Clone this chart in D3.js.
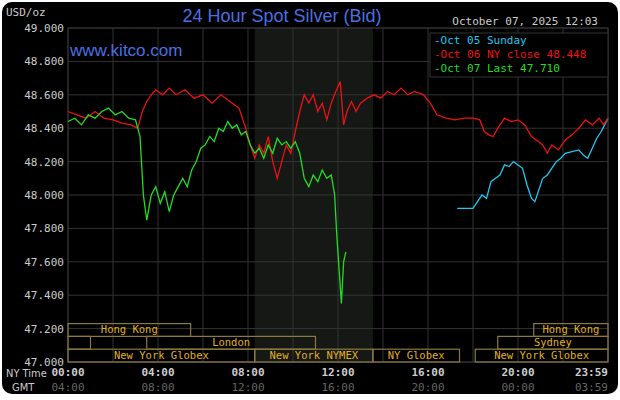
<!DOCTYPE html><html><head><meta charset="utf-8"><script src="https://cdn.jsdelivr.net/npm/d3@7"></script>
<style>body{margin:0;background:#fff}</style></head><body><svg id="c" width="620" height="400"></svg>
<script>
const yTicks=[47.0,47.2,47.4,47.6,47.8,48.0,48.2,48.4,48.6,48.8,49.0];
const xTickLabels=["00:00","04:00","08:00","12:00","16:00","20:00","23:59"];
const gmtLabels=["04:00","08:00","12:00","16:00","20:00","00:00","03:59"];
const xTickHours=[0,4,8,12,16,20,24];
const oct05=[[17.3,47.92],[18.0,47.92],[18.2,47.96],[18.4,48.0],[18.6,47.98],[18.8,48.08],[19.0,48.1],[19.2,48.12],[19.4,48.18],[19.6,48.17],[19.8,48.2],[20.0,48.18],[20.2,48.16],[20.4,48.06],[20.6,47.98],[20.75,47.96],[20.9,48.02],[21.1,48.1],[21.3,48.12],[21.5,48.16],[21.7,48.2],[21.9,48.22],[22.1,48.25],[22.4,48.26],[22.7,48.27],[22.9,48.24],[23.1,48.22],[23.3,48.28],[23.5,48.34],[23.7,48.38],[23.85,48.42],[24.0,48.46]];
const oct06=[[0,48.5],[0.4,48.48],[0.8,48.46],[1.2,48.5],[1.6,48.46],[2.0,48.45],[2.4,48.43],[2.8,48.42],[3.1,48.4],[3.3,48.5],[3.5,48.56],[3.7,48.6],[3.9,48.63],[4.2,48.6],[4.5,48.64],[4.8,48.6],[5.2,48.63],[5.6,48.58],[6.0,48.6],[6.4,48.55],[6.8,48.6],[7.2,48.56],[7.6,48.52],[7.9,48.4],[8.1,48.3],[8.3,48.22],[8.5,48.3],[8.7,48.25],[8.9,48.35],[9.1,48.2],[9.3,48.1],[9.5,48.2],[9.7,48.3],[9.9,48.25],[10.1,48.38],[10.3,48.5],[10.5,48.6],[10.7,48.55],[10.9,48.6],[11.1,48.5],[11.3,48.55],[11.5,48.45],[11.7,48.55],[11.9,48.62],[12.1,48.68],[12.25,48.42],[12.4,48.5],[12.6,48.56],[12.8,48.5],[13.0,48.55],[13.3,48.58],[13.6,48.6],[13.9,48.58],[14.2,48.62],[14.5,48.6],[14.8,48.64],[15.1,48.6],[15.4,48.62],[15.8,48.6],[16.1,48.55],[16.4,48.48],[16.8,48.46],[17.2,48.45],[17.6,48.46],[18.0,48.46],[18.3,48.45],[18.5,48.38],[18.7,48.36],[18.9,48.35],[19.1,48.4],[19.4,48.46],[19.7,48.44],[20.0,48.45],[20.3,48.42],[20.6,48.35],[20.9,48.32],[21.1,48.3],[21.3,48.25],[21.5,48.3],[21.8,48.27],[22.1,48.33],[22.4,48.36],[22.7,48.4],[23.0,48.45],[23.3,48.42],[23.6,48.46],[23.8,48.42],[24.0,48.46]];
const oct07=[[0,48.44],[0.3,48.46],[0.6,48.42],[0.9,48.48],[1.2,48.46],[1.5,48.5],[1.8,48.52],[2.1,48.48],[2.4,48.5],[2.7,48.46],[3.0,48.45],[3.2,48.35],[3.35,48.0],[3.5,47.85],[3.7,48.0],[3.9,48.05],[4.1,47.95],[4.3,48.02],[4.5,47.9],[4.7,48.0],[4.9,48.05],[5.1,48.1],[5.3,48.05],[5.5,48.15],[5.7,48.2],[5.9,48.28],[6.1,48.3],[6.3,48.35],[6.5,48.32],[6.7,48.4],[6.9,48.38],[7.1,48.44],[7.3,48.4],[7.5,48.42],[7.7,48.36],[7.9,48.38],[8.1,48.3],[8.3,48.25],[8.5,48.28],[8.7,48.22],[8.9,48.3],[9.1,48.25],[9.3,48.34],[9.5,48.3],[9.7,48.32],[9.9,48.28],[10.1,48.32],[10.3,48.25],[10.5,48.1],[10.7,48.05],[10.9,48.12],[11.1,48.08],[11.3,48.15],[11.5,48.1],[11.7,48.12],[11.85,48.0],[11.95,47.75],[12.05,47.55],[12.15,47.35],[12.25,47.6],[12.35,47.66]];
const sessions=[["Hong Kong",0,0,5.45],["",1,0,1.0],["London",1,3.5,11.0],["New York Globex",2,0,8.3],["New York NYMEX",2,8.3,13.55],["NY Globex",2,13.55,17.4],["Hong Kong",0,20.7,24.0],["Sydney",1,19.1,24.0],["New York Globex",2,18.1,24.0]];

const svg=d3.select("#c");
svg.append("rect").attr("x",2).attr("y",2).attr("width",616).attr("height",392).attr("rx",10).attr("fill","#000");
const L=68,R=608,T=28,B=362;
const x=d3.scaleLinear().domain([0,24]).range([L,R]);
const y=d3.scaleLinear().domain([47,49]).range([B,T]);
svg.append("rect").attr("x",x(8.3)).attr("y",T).attr("width",x(13.55)-x(8.3)).attr("height",B-T).attr("fill","#151815");
const g=svg.append("g");
d3.range(0,24.01,2).forEach(h=>g.append("line").attr("x1",x(h)).attr("x2",x(h)).attr("y1",T).attr("y2",B).attr("stroke","#333"));
yTicks.forEach(v=>g.append("line").attr("x1",L).attr("x2",R).attr("y1",y(v)).attr("y2",y(v)).attr("stroke","#333"));
g.append("rect").attr("x",L).attr("y",T).attr("width",R-L).attr("height",B-T).attr("fill","none").attr("stroke","#333");
const mono="DejaVu Sans Mono";
yTicks.forEach(v=>svg.append("text").attr("x",L-4).attr("y",y(v)+4).attr("text-anchor","end").attr("font-family",mono).attr("font-size",11).attr("fill","#ccc").text(d3.format(",.3f")(v)));
svg.append("text").attr("x",6).attr("y",16).attr("font-family",mono).attr("font-size",11).attr("fill","#ccc").text("USD/oz");
const top0=y(47.2)-5, rowH=(B-top0)/3;
sessions.forEach(s=>{const yy=top0+s[1]*rowH;
 svg.append("rect").attr("x",x(s[2])).attr("y",yy).attr("width",x(s[3])-x(s[2])).attr("height",rowH).attr("fill","none").attr("stroke","#8a7a40").attr("stroke-width",1.2);
 svg.append("text").attr("x",(x(s[2])+x(s[3]))/2).attr("y",yy+rowH-3).attr("text-anchor","middle").attr("font-family",mono).attr("font-size",10.5).attr("fill","#e0b020").text(s[0]);});
const line=d3.line().x(d=>x(d[0])).y(d=>y(d[1]));
[[oct05,"#1ec8f0"],[oct06,"#ee1111"],[oct07,"#22dd22"]].forEach(([d,c])=>svg.append("path").attr("d",line(d)).attr("fill","none").attr("stroke",c).attr("stroke-width",1.3));
xTickHours.forEach((h,i)=>{svg.append("text").attr("x",i==6?R:x(h)).attr("y",376).attr("text-anchor",i==6?"end":"middle").attr("font-family",mono).attr("font-size",11).attr("font-weight","bold").attr("fill","#ccc").text(xTickLabels[i]);
 svg.append("text").attr("x",i==6?R:x(h)).attr("y",391).attr("text-anchor",i==6?"end":"middle").attr("font-family",mono).attr("font-size",11).attr("fill","#666").text(gmtLabels[i]);});
svg.append("text").attr("x",6).attr("y",377).attr("font-family","Liberation Sans Narrow, DejaVu Sans Condensed").attr("font-size",11).attr("fill","#ccc").text("NY Time");
svg.append("text").attr("x",12).attr("y",391).attr("font-family","Liberation Sans Narrow, DejaVu Sans Condensed").attr("font-size",11).attr("fill","#ccc").text("GMT");
svg.append("text").attr("x",282).attr("y",22).attr("text-anchor","middle").attr("font-family","Liberation Sans").attr("font-size",18).attr("fill","#4a70e0").text("24 Hour Spot Silver (Bid)");
svg.append("text").attr("x",598).attr("y",25).attr("text-anchor","end").attr("font-family",mono).attr("font-size",11).attr("fill","#ccc").text("October 07, 2025 12:03");
svg.append("text").attr("x",70).attr("y",56).attr("font-family","Liberation Sans").attr("font-size",17).attr("fill","#4a70e0").text("www.kitco.com");
svg.append("rect").attr("x",430).attr("y",T+5).attr("width",R-430).attr("height",44).attr("fill","#000").attr("stroke","#333");
[["-Oct 05 Sunday","#1ec8f0"],["-Oct 06 NY close 48.448","#ee1111"],["-Oct 07 Last 47.710","#22dd22"]].forEach((l,i)=>svg.append("text").attr("x",434).attr("y",T+16+i*14).attr("font-family",mono).attr("font-size",11).attr("fill",l[1]).text(l[0]));
</script></body></html>
